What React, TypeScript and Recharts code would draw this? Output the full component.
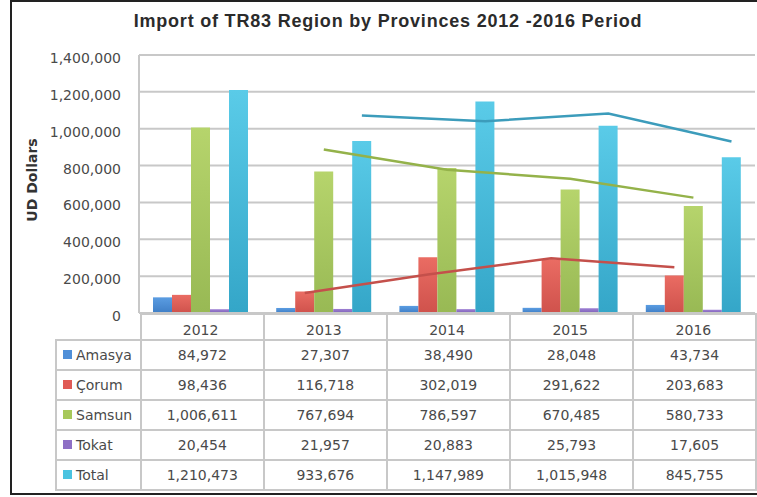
import React from 'react'
import { ComposedChart, Bar, Line, XAxis, YAxis, CartesianGrid } from 'recharts'

const years = ['2012', '2013', '2014', '2015', '2016']
const amasya = [84972, 27307, 38490, 28048, 43734]
const corum = [98436, 116718, 302019, 291622, 203683]
const samsun = [1006611, 767694, 786597, 670485, 580733]
const tokat = [20454, 21957, 20883, 25793, 17605]
const total = [1210473, 933676, 1147989, 1015948, 845755]

// trend lines (they start at 2013)
const corumTrend = [null, 108000, 209000, 297000, 248000]
const samsunTrend = [null, 887000, 777000, 729000, 626000]
const totalTrend = [null, 1072000, 1041000, 1082000, 931000]

const yTicks = [0, 200000, 400000, 600000, 800000, 1000000, 1200000, 1400000]

const series = [
  { key: 'Amasya', values: amasya, top: '#5b9de2', bottom: '#3f7ec6', swatch: '#4f8fd8' },
  { key: 'Çorum', values: corum, top: '#ea6c63', bottom: '#cf524c', swatch: '#e05a55' },
  { key: 'Samsun', values: samsun, top: '#b6d46c', bottom: '#98b954', swatch: '#a7c85a' },
  { key: 'Tokat', values: tokat, top: '#9d7fd3', bottom: '#7f62b8', swatch: '#8e6fc5' },
  { key: 'Total', values: total, top: '#5acbe8', bottom: '#34a6c8', swatch: '#4bc3e0' },
]

const W = 757
const H = 497
const plotLeft = 139
const plotRight = 755
const plotTop = 55
const plotBottom = 313
const yAxisWidth = 112
const xAxisHeight = 30
const catGap = 14

const band = (plotRight - plotLeft) / years.length
const barW = (band - 2 * catGap) / series.length
// where bar k sits inside its category, in category units
const barOffset = (k: number) => (catGap + barW * (k + 0.5) - band / 2) / band

const fmt = (v: number) => v.toLocaleString('en-US')

const chartData = years.map((year, i) => {
  const row: any = { year }
  series.forEach((s) => (row[s.key] = s.values[i]))
  return row
})

const trendRows = (vals: (number | null)[], k: number) =>
  vals
    .map((v, i) => ({ x: i + barOffset(k), v }))
    .filter((d) => d.v != null)

const trends = [
  { key: 'corumTrend', data: trendRows(corumTrend, 1), color: '#c4504b' },
  { key: 'samsunTrend', data: trendRows(samsunTrend, 2), color: '#94b24a' },
  { key: 'totalTrend', data: trendRows(totalTrend, 4), color: '#3c9cbb' },
]

const font = '"DejaVu Sans", sans-serif'
const textColor = '#4a4a4a'
const gridColor = '#c8c8c8'

export default function App() {
  const rowH = 30
  const headH = plotBottom + 26
  const firstColW = plotLeft - 55

  return (
    <div style={{ position: 'absolute', left: 0, top: 0, width: W, height: H, background: '#fff', overflow: 'hidden' }}>
      {/* frame */}
      <div style={{ position: 'absolute', left: 10, top: 0, width: W, height: H - 2, borderLeft: '2px solid #222', borderTop: '2px solid #222', borderBottom: '2px solid #222', boxSizing: 'border-box' }} />

      <div
        style={{
          position: 'absolute', left: 0, top: 12, width: 776, textAlign: 'center',
          fontFamily: '"Liberation Sans", Arial, sans-serif', fontWeight: 'bold', fontSize: 18, letterSpacing: 0.8,
          lineHeight: '18px', color: '#2b2b2b',
        }}
      >
        Import of TR83 Region by Provinces 2012 -2016 Period
      </div>

      <div style={{ position: 'absolute', left: 0, top: 0 }}>
        <ComposedChart
          width={W}
          height={H}
          data={chartData}
          barCategoryGap={catGap}
          barGap={0}
          margin={{ top: plotTop, right: W - plotRight, bottom: H - plotBottom - xAxisHeight, left: plotLeft - yAxisWidth }}
        >
          <defs>
            {series.map((s, i) => (
              <linearGradient key={s.key} id={`grad${i}`} x1="0" y1="0" x2="0" y2="1">
                <stop offset="0%" stopColor={s.top} />
                <stop offset="100%" stopColor={s.bottom} />
              </linearGradient>
            ))}
          </defs>
          <CartesianGrid vertical={false} stroke={gridColor} strokeWidth={2} />
          <XAxis
            dataKey="year"
            axisLine={{ stroke: gridColor, strokeWidth: 2 }}
            tickLine={false}
            tickMargin={6}
            height={xAxisHeight}
            tick={{ fill: textColor, fontSize: 14, fontFamily: font }}
          />
          <XAxis xAxisId="num" type="number" dataKey="x" domain={[-0.5, years.length - 0.5]} allowDataOverflow hide />
          <YAxis
            width={yAxisWidth}
            domain={[0, 1400000]}
            ticks={yTicks}
            interval={0}
            tickFormatter={fmt}
            axisLine={{ stroke: gridColor, strokeWidth: 2 }}
            tickLine={false}
            tickMargin={12}
            tick={{ fill: textColor, fontSize: 14, fontFamily: font, dy: 3 }}
            label={{
              value: 'UD Dollars',
              angle: -90,
              position: 'insideLeft',
              dy: -4,
              style: { textAnchor: 'middle', fill: '#333', fontSize: 14, fontWeight: 'bold', fontFamily: font },
            }}
          />
          {series.map((s, i) => (
            <Bar key={s.key} dataKey={s.key} fill={`url(#grad${i})`} isAnimationActive={false} />
          ))}
          {trends.map((t) => (
            <Line
              key={t.key}
              xAxisId="num"
              data={t.data}
              dataKey="v"
              stroke={t.color}
              strokeWidth={2.5}
              dot={false}
              activeDot={false}
              isAnimationActive={false}
            />
          ))}
        </ComposedChart>
      </div>

      {/* data table under the plot */}
      <table
        style={{
          position: 'absolute', left: 55, top: plotBottom, borderCollapse: 'collapse', tableLayout: 'fixed',
          fontFamily: font, fontSize: 14, color: textColor,
        }}
      >
        <tbody>
          <tr style={{ height: headH - plotBottom }}>
            <td style={{ width: firstColW, padding: 0, borderRight: `2px solid ${gridColor}`, borderBottom: `2px solid ${gridColor}` }} />
            {years.map((y) => (
              <td key={y} style={{ width: band, padding: 0, border: `2px solid ${gridColor}` }} />
            ))}
          </tr>
          {series.map((s) => (
            <tr key={s.key} style={{ height: rowH }}>
              <td style={{ padding: '0 0 0 6px', border: `2px solid ${gridColor}`, whiteSpace: 'nowrap' }}>
                <span style={{ display: 'inline-block', width: 9, height: 9, background: s.swatch, marginRight: 4, verticalAlign: 1 }} />
                {s.key}
              </td>
              {s.values.map((v, i) => (
                <td key={i} style={{ padding: 0, textAlign: 'center', border: `2px solid ${gridColor}` }}>
                  {fmt(v)}
                </td>
              ))}
            </tr>
          ))}
        </tbody>
      </table>
    </div>
  )
}
